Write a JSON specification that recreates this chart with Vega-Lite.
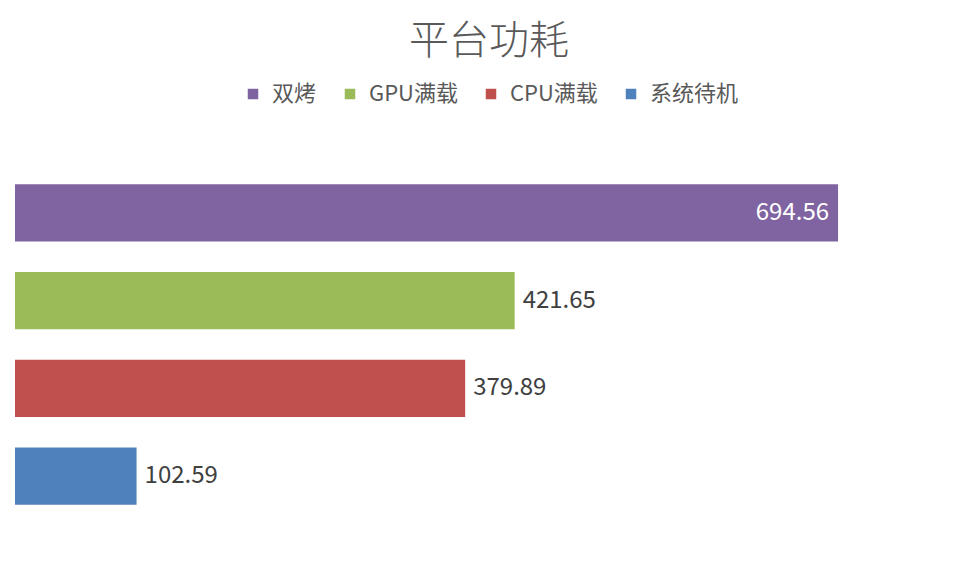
{
  "$schema": "https://vega.github.io/schema/vega-lite/v6.json",
  "width": 948,
  "height": 351,
  "autosize": "none",
  "padding": {"left": 15, "top": 169, "right": 15, "bottom": 58},
  "background": "white",
  "title": {
    "text": "平台功耗",
    "anchor": "middle",
    "font": "Noto Sans CJK SC",
    "fontSize": 40,
    "fontWeight": 300,
    "color": "#595959",
    "offset": 21
  },
  "data": {
    "values": [
      {"类别": "双烤", "功耗": 694.56},
      {"类别": "GPU满载", "功耗": 421.65},
      {"类别": "CPU满载", "功耗": 379.89},
      {"类别": "系统待机", "功耗": 102.59}
    ]
  },
  "encoding": {
    "y": {
      "field": "类别",
      "type": "nominal",
      "sort": ["双烤", "GPU满载", "CPU满载", "系统待机"],
      "axis": null,
      "scale": {"paddingInner": 0.35, "paddingOuter": 0.175}
    },
    "x": {
      "field": "功耗",
      "type": "quantitative",
      "axis": null,
      "scale": {"domain": [0, 800]}
    }
  },
  "layer": [
    {
      "mark": {"type": "bar"},
      "encoding": {
        "color": {
          "field": "类别",
          "type": "nominal",
          "scale": {
            "domain": ["双烤", "GPU满载", "CPU满载", "系统待机"],
            "range": ["#8064A2", "#9BBB59", "#C0504D", "#4F81BD"]
          },
          "legend": {
            "orient": "none",
            "direction": "horizontal",
            "legendX": 227,
            "legendY": -86,
            "title": null,
            "symbolType": "square",
            "symbolSize": 110,
            "symbolStrokeWidth": 0,
            "labelFont": "Noto Sans CJK SC",
            "labelFontSize": 22,
            "labelColor": "#595959",
            "labelOffset": 8,
            "columnPadding": 22
          }
        }
      }
    },
    {
      "transform": [{"filter": "datum['功耗'] > 600"}],
      "mark": {
        "type": "text",
        "align": "right",
        "dx": -9,
        "font": "Noto Sans CJK SC",
        "fontSize": 24,
        "color": "white"
      },
      "encoding": {"text": {"field": "功耗", "type": "quantitative", "format": ".2f"}}
    },
    {
      "transform": [{"filter": "datum['功耗'] <= 600"}],
      "mark": {
        "type": "text",
        "align": "left",
        "dx": 8,
        "font": "Noto Sans CJK SC",
        "fontSize": 24,
        "color": "#404040"
      },
      "encoding": {"text": {"field": "功耗", "type": "quantitative", "format": ".2f"}}
    }
  ],
  "config": {"view": {"stroke": null}}
}
